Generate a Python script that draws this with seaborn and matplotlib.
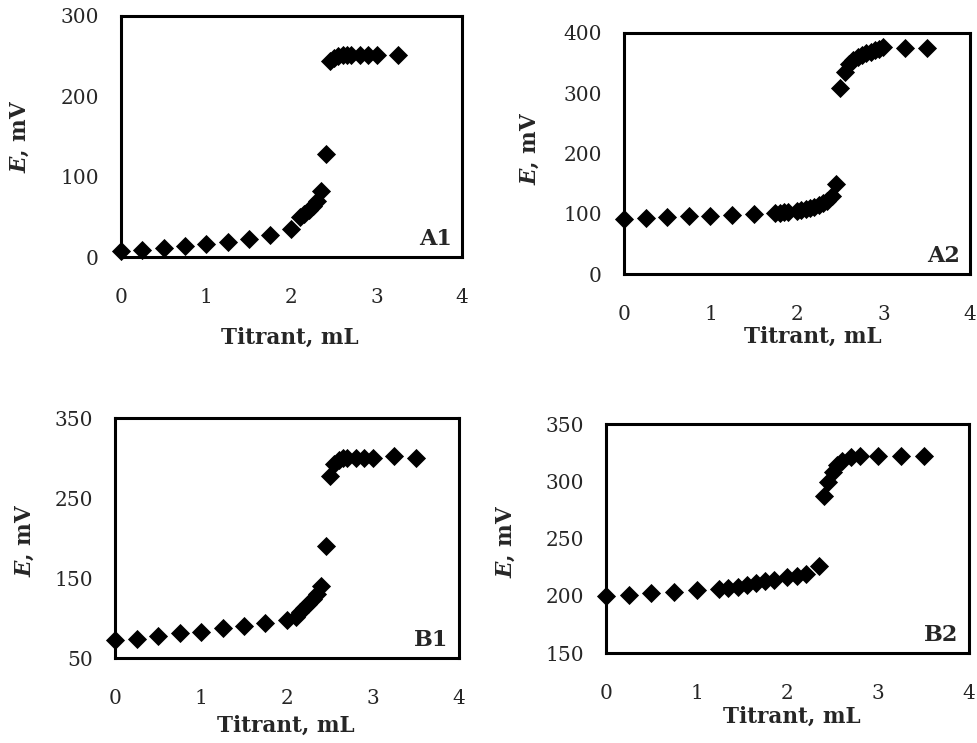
import numpy as np
import pandas as pd
import matplotlib
matplotlib.use("Agg")
import matplotlib.pyplot as plt
import seaborn as sns

# titration curves
a1_x = [0, 0.25, 0.5, 0.75, 1.0, 1.25, 1.5, 1.75, 2.0, 2.1, 2.15, 2.2, 2.25, 2.3, 2.35, 2.4,
        2.45, 2.5, 2.55, 2.6, 2.65, 2.7, 2.8, 2.9, 3.0, 3.25]
a1_y = [7, 9, 11, 14, 16, 19, 22, 28, 35, 50, 54, 58, 63, 70, 82, 128,
        244, 248, 250, 251, 252, 252, 252, 252, 252, 252]

a2_x = [0, 0.25, 0.5, 0.75, 1.0, 1.25, 1.5, 1.75, 1.8, 1.85, 1.9, 2.0, 2.05, 2.1, 2.15, 2.2,
        2.25, 2.3, 2.35, 2.4, 2.45, 2.5, 2.55, 2.6, 2.65, 2.7, 2.75, 2.8, 2.85, 2.9, 2.95,
        3.0, 3.25, 3.5]
a2_y = [92, 93, 94, 96, 97, 98, 99, 102, 102, 103, 103, 105, 106, 108, 110, 112,
        115, 118, 122, 130, 150, 308, 336, 348, 355, 360, 363, 366, 369, 372, 374,
        376, 375, 375]

b1_x = [0, 0.25, 0.5, 0.75, 1.0, 1.25, 1.5, 1.75, 2.0, 2.1, 2.15, 2.2, 2.25, 2.3, 2.35, 2.4,
        2.45, 2.5, 2.55, 2.6, 2.65, 2.7, 2.8, 2.9, 3.0, 3.25, 3.5]
b1_y = [73, 74, 77, 81, 83, 87, 90, 94, 98, 101, 107, 112, 118, 124, 130, 140,
        190, 277, 292, 298, 300, 300, 300, 300, 300, 302, 300]

b2_x = [0, 0.25, 0.5, 0.75, 1.0, 1.25, 1.35, 1.45, 1.55, 1.65, 1.75, 1.85, 2.0, 2.1, 2.2,
        2.35, 2.4, 2.45, 2.5, 2.55, 2.6, 2.7, 2.8, 3.0, 3.25, 3.5]
b2_y = [200, 201, 202, 203, 205, 206, 207, 208, 209, 211, 213, 214, 216, 217, 219,
        226, 287, 299, 308, 314, 318, 321, 322, 322, 322, 322]

panels = ["A1", "A2", "B1", "B2"]
ylims = [(0, 300), (0, 400), (50, 350), (150, 350)]
yticks = [[0, 100, 200, 300], [0, 100, 200, 300, 400], [50, 150, 250, 350],
          [150, 200, 250, 300, 350]]
xticks = [0, 1, 2, 3, 4]

sns.set_style("white")
plt.rcParams["font.family"] = ["DejaVu Serif"]
plt.rcParams["mathtext.fontset"] = "dejavuserif"

fig = plt.figure(figsize=(9.78, 7.43), dpi=100)

rects = [[0.1237, 0.6541, 0.3487, 0.3244],
         [0.6380, 0.6312, 0.3538, 0.3244],
         [0.1176, 0.1144, 0.3517, 0.3230],
         [0.6196, 0.1211, 0.3712, 0.3082]]
ylab_pos = [(-0.265, 0.50), (-0.24, 0.52), (-0.23, 0.49), (-0.245, 0.49)]
xlab_pos = [(0.496, -0.29), (0.546, -0.215), (0.497, -0.235), (0.512, -0.232)]

data = [(a1_x, a1_y), (a2_x, a2_y), (b1_x, b1_y), (b2_x, b2_y)]

for i, (xs, ys) in enumerate(data):
    ax = fig.add_axes(rects[i])
    df = pd.DataFrame({"x": xs, "y": ys})
    sns.scatterplot(data=df, x="x", y="y", ax=ax, marker="D", color="black",
                    s=95, linewidth=0, clip_on=False, zorder=3)
    ax.set_xlim(0, 4)
    ax.set_ylim(*ylims[i])
    ax.set_xticks(xticks)
    ax.set_yticks(yticks[i])
    for sp in ax.spines.values():
        sp.set_linewidth(2.2)
        sp.set_color("black")
    ax.tick_params(axis="x", direction="in", length=5, width=2, pad=22, labelsize=14.5)
    ax.tick_params(axis="y", direction="out", length=4, width=2, pad=12, labelsize=14.5)
    ax.set_xlabel("Titrant, mL", fontsize=15.5, fontweight="bold")
    ax.set_ylabel(r"$\mathbfit{E}$, mV", fontsize=15.5, fontweight="bold")
    ax.xaxis.set_label_coords(*xlab_pos[i])
    ax.yaxis.set_label_coords(*ylab_pos[i])
    ax.text(0.97, 0.03, panels[i], transform=ax.transAxes, ha="right", va="bottom",
            fontsize=16, fontweight="bold")

fig.savefig("out.png", dpi=100)
